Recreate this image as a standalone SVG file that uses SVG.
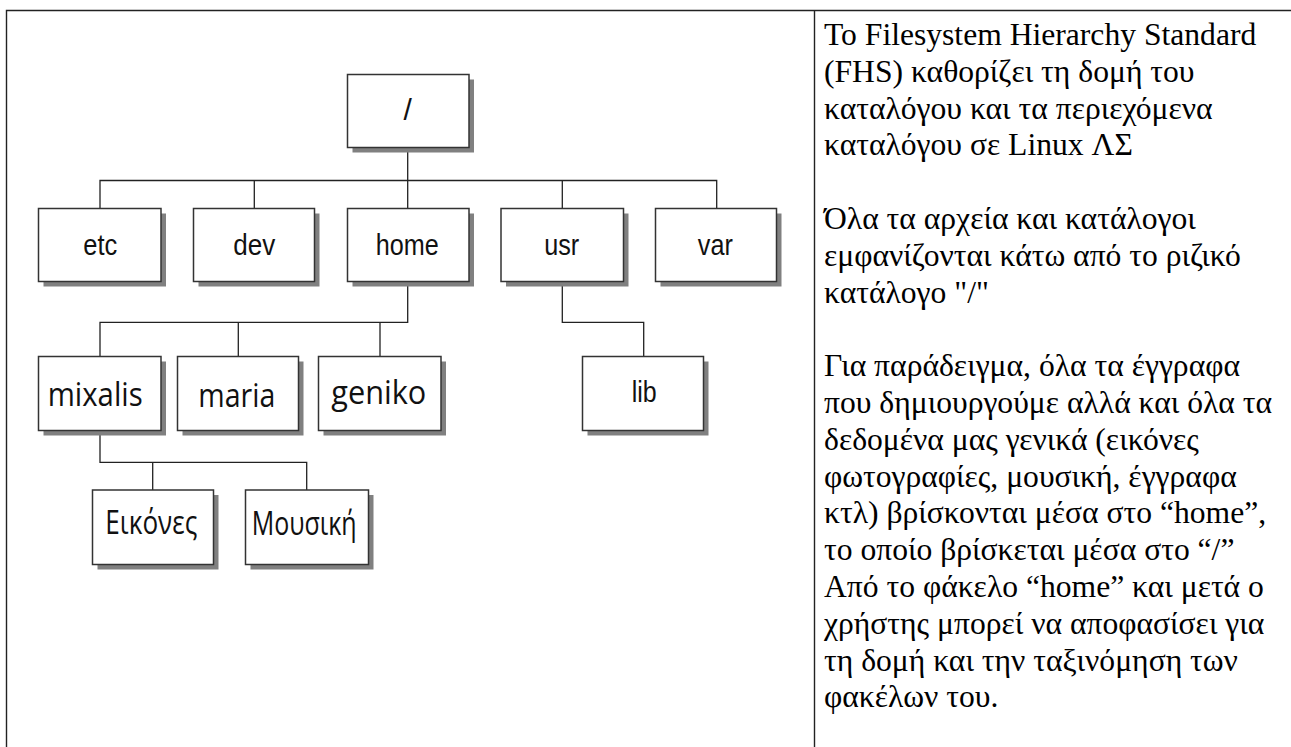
<svg xmlns="http://www.w3.org/2000/svg" width="1291" height="747" viewBox="0 0 1291 747">
<style>
.frame{stroke:#222;stroke-width:1.4;fill:none}
.box{fill:#fff;stroke:#333;stroke-width:1.5}
.sh{fill:#808080}
.conn{stroke:#222;stroke-width:1.3;fill:none}
.l1{font-family:"Liberation Sans",Arial,sans-serif;font-size:30px;fill:#111;text-anchor:middle}
.l2{font-family:"Open Sans","Noto Sans",sans-serif;font-size:33px;fill:#111;text-anchor:middle}
.p{font-family:"Liberation Serif","Times New Roman",serif;font-size:31px;fill:#000}
</style>
<rect width="1291" height="747" fill="#fff"/>
<g id="frame">
<path class="frame" d="M6.5 747V10.5H1291M814.5 10.5V747"/>
</g>
<g id="connectors">
<path class="conn" d="M407.7 147.5V208.5M100 208.5V180.5H716.7V208.5M254.3 180.5V208.5M562.3 180.5V208.5"/>
<path class="conn" d="M407.7 281.5V322.3H100V356.5M238.3 322.3V356.5M380 322.3V356.5"/>
<path class="conn" d="M562.3 281.5V322.3H643.7V356.5"/>
<path class="conn" d="M100 430.5V462.3H306.7V490M152.7 462.3V490"/>
</g>
<g id="n-root"><rect class="sh" x="352.5" y="79.5" width="121.5" height="73"/><rect class="box" x="347.5" y="74.5" width="121.5" height="73"/><text class="l1" x="407.7" y="120">/</text></g>
<g id="n-etc"><rect class="sh" x="43.5" y="213.5" width="122.5" height="73"/><rect class="box" x="38.5" y="208.5" width="122.5" height="73"/><text class="l1" x="100.3" y="254.5" textLength="34" lengthAdjust="spacingAndGlyphs">etc</text></g>
<g id="n-dev"><rect class="sh" x="198.5" y="213.5" width="121" height="73"/><rect class="box" x="193.5" y="208.5" width="121" height="73"/><text class="l1" x="254.3" y="254.5" textLength="42" lengthAdjust="spacingAndGlyphs">dev</text></g>
<g id="n-home"><rect class="sh" x="352.5" y="213.5" width="121.5" height="73"/><rect class="box" x="347.5" y="208.5" width="121.5" height="73"/><text class="l1" x="407.3" y="254.5" textLength="63" lengthAdjust="spacingAndGlyphs">home</text></g>
<g id="n-usr"><rect class="sh" x="506" y="213.5" width="122.5" height="73"/><rect class="box" x="501" y="208.5" width="122.5" height="73"/><text class="l1" x="561.7" y="254.5" textLength="35" lengthAdjust="spacingAndGlyphs">usr</text></g>
<g id="n-var"><rect class="sh" x="660.5" y="213.5" width="121" height="73"/><rect class="box" x="655.5" y="208.5" width="121" height="73"/><text class="l1" x="715.3" y="254.5" textLength="35" lengthAdjust="spacingAndGlyphs">var</text></g>
<g id="n-mixalis"><rect class="sh" x="43.5" y="361.5" width="122.5" height="74"/><rect class="box" x="38.5" y="356.5" width="122.5" height="74"/><text class="l2" x="95.2" y="406" textLength="95" lengthAdjust="spacingAndGlyphs">mixalis</text></g>
<g id="n-maria"><rect class="sh" x="182.5" y="361.5" width="121" height="74"/><rect class="box" x="177.5" y="356.5" width="121" height="74"/><text class="l2" x="236.8" y="407" textLength="77" lengthAdjust="spacingAndGlyphs">maria</text></g>
<g id="n-geniko"><rect class="sh" x="323.5" y="361.5" width="122.5" height="74"/><rect class="box" x="318.5" y="356.5" width="122.5" height="74"/><text class="l2" x="378.8" y="404" textLength="95" lengthAdjust="spacingAndGlyphs">geniko</text></g>
<g id="n-lib"><rect class="sh" x="587.5" y="361.5" width="121" height="74"/><rect class="box" x="582.5" y="356.5" width="121" height="74"/><text class="l1" x="644.2" y="401.7" textLength="25" lengthAdjust="spacingAndGlyphs">lib</text></g>
<g id="n-eikones"><rect class="sh" x="97.5" y="495" width="121" height="74.5"/><rect class="box" x="92.5" y="490" width="121" height="74.5"/><text class="l2" x="151.3" y="533.5" textLength="92" lengthAdjust="spacingAndGlyphs">Εικόνες</text></g>
<g id="n-mousiki"><rect class="sh" x="250.5" y="495" width="123" height="74.5"/><rect class="box" x="245.5" y="490" width="123" height="74.5"/><text class="l2" x="304.2" y="535" textLength="105" lengthAdjust="spacingAndGlyphs">Μουσική</text></g>
<g id="description" transform="translate(824 0) scale(1.02 1)">
<text class="p" x="0" y="45">To Filesystem Hierarchy Standard</text>
<text class="p" x="0" y="81.8">(FHS) καθορίζει τη δομή του</text>
<text class="p" x="0" y="118.6">καταλόγου και τα περιεχόμενα</text>
<text class="p" x="0" y="155.4">καταλόγου σε Linux ΛΣ</text>
<text class="p" x="0" y="229">Όλα τα αρχεία και κατάλογοι</text>
<text class="p" x="0" y="265.8">εμφανίζονται κάτω από το ριζικό</text>
<text class="p" x="0" y="302.6">κατάλογο "/"</text>
<text class="p" x="0" y="376.2">Για παράδειγμα, όλα τα έγγραφα</text>
<text class="p" x="0" y="413">που δημιουργούμε αλλά και όλα τα</text>
<text class="p" x="0" y="449.8">δεδομένα μας γενικά (εικόνες</text>
<text class="p" x="0" y="486.6">φωτογραφίες, μουσική, έγγραφα</text>
<text class="p" x="0" y="523.4">κτλ) βρίσκονται μέσα στο “home”,</text>
<text class="p" x="0" y="560.2">το οποίο βρίσκεται μέσα στο “/”</text>
<text class="p" x="0" y="597">Από το φάκελο “home” και μετά ο</text>
<text class="p" x="0" y="633.8">χρήστης μπορεί να αποφασίσει για</text>
<text class="p" x="0" y="670.6">τη δομή και την ταξινόμηση των</text>
<text class="p" x="0" y="707.4">φακέλων του.</text>
</g>
</svg>
